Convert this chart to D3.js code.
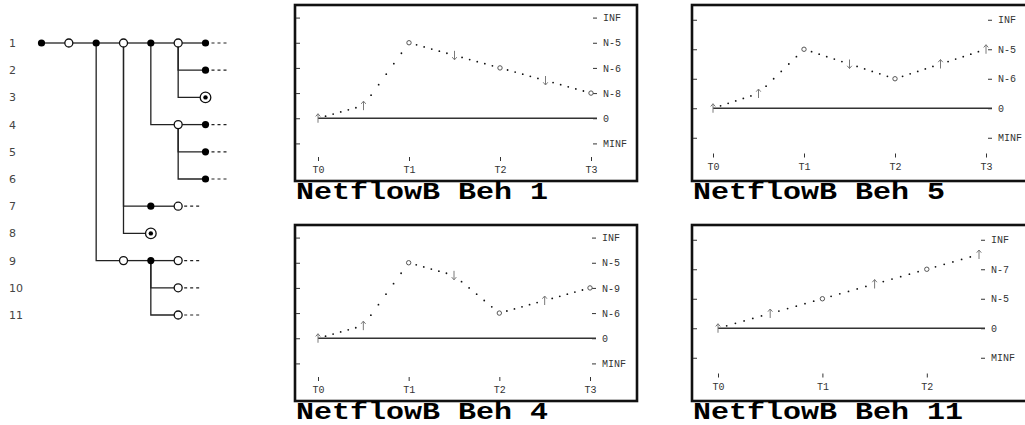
<!DOCTYPE html>
<html>
<head>
<meta charset="utf-8">
<script src="https://cdn.jsdelivr.net/npm/d3@7"></script>
<style>
  body { margin: 0; background: #fff; }
  svg { display: block; }
</style>
</head>
<body>
<svg id="chart" width="1025" height="425"></svg>
<script>
// ---- Behaviour tree ----
const treeRowLabels = ["1", "2", "3", "4", "5", "6", "7", "8", "9", "10", "11"];
// kind: "filled" | "open" | "final"; more: branch continues past the node
const treeIds     = ["a","b","c","d","e","f","g","h","i","j","k","l","m","n","o","p","q","r","s","t","u"];
const treeParents = [null,"a","b","c","d","e","f","f","f","e","j","j","j","d","n","d","c","q","r","r","r"];
const treeRows    = [0,0,0,0,0,0,0,1,2,3,3,4,5,6,6,7,8,8,8,9,10];
const treeCols    = [0,1,2,3,4,5,6,6,6,5,6,6,6,4,5,4,3,4,5,5,5];
const treeKinds   = ["filled","open","filled","open","filled","open","filled","filled","final","open","filled","filled","filled","filled","open","final","open","filled","open","open","open"];
const treeMore    = [0,0,0,0,0,0,1,1,0,0,1,1,1,0,1,0,0,0,1,1,1];

// ---- Behaviour plots ----
// values are indices into the level list (x.5 = between two landmarks),
// one entry per state: T0, (T0,T1), T1, (T1,T2), ...
const beh1Title  = "NetflowB Beh 1";
const beh1Levels = ["MINF", "0", "N-8", "N-6", "N-5", "INF"];
const beh1Times  = ["T0", "T1", "T2", "T3"];
const beh1Values = [1, 1.5, 4, 3.5, 3, 2.5, 2];
const beh1Marks  = ["inc", "inc", "pt", "dec", "pt", "dec", "pt"];

const beh5Title  = "NetflowB Beh 5";
const beh5Levels = ["MINF", "0", "N-6", "N-5", "INF"];
const beh5Times  = ["T0", "T1", "T2", "T3"];
const beh5Values = [1, 1.5, 3, 2.5, 2, 2.5, 3];
const beh5Marks  = ["inc", "inc", "pt", "dec", "pt", "inc", "inc"];

const beh4Title  = "NetflowB Beh 4";
const beh4Levels = ["MINF", "0", "N-6", "N-9", "N-5", "INF"];
const beh4Times  = ["T0", "T1", "T2", "T3"];
const beh4Values = [1, 1.5, 4, 3.5, 2, 2.5, 3];
const beh4Marks  = ["inc", "inc", "pt", "dec", "pt", "inc", "pt"];

const beh11Title  = "NetflowB Beh 11";
const beh11Levels = ["MINF", "0", "N-5", "N-7", "INF"];
const beh11Times  = ["T0", "T1", "T2"];
const beh11Values = [1, 1.5, 2, 2.5, 3, 3.5];
const beh11Marks  = ["inc", "inc", "pt", "inc", "pt", "inc"];

const svg = d3.select("#chart");

// ---------- tree ----------
const colX = d3.scaleLinear().domain([0, 6]).range([41.5, 205.5]);
const rowY = d3.scaleLinear().domain([0, 10]).range([43, 315]);

const treeG = svg.append("g");
treeG.selectAll("text.row")
  .data(treeRowLabels)
  .join("text")
  .attr("class", "row")
  .attr("x", 9)
  .attr("y", (d, i) => rowY(i))
  .attr("dy", "0.36em")
  .attr("font-family", "DejaVu Sans, sans-serif")
  .attr("font-size", 11)
  .attr("fill", "#444")
  .text(d => d);

const nodes = treeIds.map((id, i) => ({
  id, parentId: treeParents[i], row: treeRows[i], col: treeCols[i],
  kind: treeKinds[i], more: treeMore[i]
}));
const root = d3.stratify().id(d => d.id).parentId(d => d.parentId)(nodes);

// elbow links: down the parent's column, then across to the child
treeG.selectAll("path.link")
  .data(root.links())
  .join("path")
  .attr("class", "link")
  .attr("fill", "none")
  .attr("stroke", "#222")
  .attr("stroke-width", 1.3)
  .attr("d", l => {
    const sx = colX(l.source.data.col), sy = rowY(l.source.data.row);
    const tx = colX(l.target.data.col), ty = rowY(l.target.data.row);
    return `M${sx},${sy}V${ty}H${tx}`;
  });

treeG.selectAll("line.more")
  .data(root.descendants().filter(d => d.data.more))
  .join("line")
  .attr("class", "more")
  .attr("x1", d => colX(d.data.col) + 6)
  .attr("x2", d => colX(d.data.col) + 23)
  .attr("y1", d => rowY(d.data.row))
  .attr("y2", d => rowY(d.data.row))
  .attr("stroke", "#222")
  .attr("stroke-width", 1.2)
  .attr("stroke-dasharray", "3,3");

const nodeG = treeG.selectAll("g.node")
  .data(root.descendants())
  .join("g")
  .attr("class", "node")
  .attr("transform", d => `translate(${colX(d.data.col)},${rowY(d.data.row)})`);

nodeG.filter(d => d.data.kind === "filled")
  .append("circle").attr("r", 3.6).attr("fill", "#000");
nodeG.filter(d => d.data.kind === "open")
  .append("circle").attr("r", 4).attr("fill", "#fff").attr("stroke", "#111").attr("stroke-width", 1.3);
const fin = nodeG.filter(d => d.data.kind === "final");
fin.append("circle").attr("r", 5.3).attr("fill", "#fff").attr("stroke", "#111").attr("stroke-width", 1.3);
fin.append("circle").attr("r", 2.2).attr("fill", "#000");

// ---------- behaviour plots ----------
const panels = [
  { title: beh1Title,  levels: beh1Levels,  times: beh1Times,  values: beh1Values,  marks: beh1Marks,
    left: 295, top: 5,   xPad: 23, xSpan: 273, plotH: 151 },
  { title: beh5Title,  levels: beh5Levels,  times: beh5Times,  values: beh5Values,  marks: beh5Marks,
    left: 692, top: 5,   xPad: 21, xSpan: 273, plotH: 147.5 },
  { title: beh4Title,  levels: beh4Levels,  times: beh4Times,  values: beh4Values,  marks: beh4Marks,
    left: 295, top: 225, xPad: 23, xSpan: 272, plotH: 151 },
  { title: beh11Title, levels: beh11Levels, times: beh11Times, values: beh11Values, marks: beh11Marks,
    left: 692, top: 225, xPad: 26, xSpan: 261, plotH: 147.5 }
];

const boxW = 342, boxH = 176;
const mono = "'Courier New', Courier, 'Liberation Mono', monospace";

panels.forEach(p => {
  const g = svg.append("g");
  const nStates = p.values.length;
  const lastT = (nStates - 1) / 2;
  const x = d3.scaleLinear().domain([0, lastT])
    .range([p.left + p.xPad, p.left + p.xPad + p.xSpan]);
  const y = d3.scaleLinear().domain([-0.5, p.levels.length - 0.5])
    .range([p.top + p.plotH, p.top]);
  const levelIdx = d3.range(p.levels.length);
  const xEnd = x(lastT);

  // frame
  g.append("rect")
    .attr("x", p.left).attr("y", p.top)
    .attr("width", boxW).attr("height", boxH)
    .attr("fill", "none").attr("stroke", "#111").attr("stroke-width", 2.6);

  // inner ticks on the frame
  const leftAx = g.append("g")
    .attr("transform", `translate(${p.left + 1},0)`)
    .call(d3.axisRight(y).tickValues(levelIdx).tickSize(4).tickFormat(""));
  leftAx.select(".domain").remove();
  leftAx.selectAll("line").attr("stroke", "#333");

  // landmark axis on the right
  const rightAx = g.append("g")
    .attr("transform", `translate(${xEnd + 2},0)`)
    .call(d3.axisRight(y).tickValues(levelIdx).tickSize(4).tickPadding(6)
      .tickFormat(i => p.levels[i]));
  rightAx.select(".domain").remove();
  rightAx.selectAll("line").attr("stroke", "#333");
  rightAx.selectAll("text").attr("font-family", mono).attr("font-size", 10).attr("fill", "#333");

  // time axis
  const timeAx = g.append("g")
    .attr("transform", `translate(0,${p.top + p.plotH + 1})`)
    .call(d3.axisBottom(x).tickValues(d3.range(p.times.length)).tickSize(4).tickPadding(5)
      .tickFormat(i => p.times[i]));
  timeAx.select(".domain").remove();
  timeAx.selectAll("line").attr("stroke", "#333");
  timeAx.selectAll("text").attr("font-family", mono).attr("font-size", 10).attr("fill", "#333");

  // zero line
  const zi = p.levels.indexOf("0");
  g.append("line")
    .attr("x1", x(0)).attr("x2", xEnd + 6)
    .attr("y1", y(zi)).attr("y2", y(zi))
    .attr("stroke", "#333").attr("stroke-width", 1.4);

  // dotted trajectory between consecutive states
  const states = p.values.map((v, i) => ({ t: i / 2, v, m: p.marks[i] }));
  const dots = [];
  d3.pairs(states).forEach(([a, b]) => {
    for (let k = 1; k <= 5; k++) {
      const f = k / 6;
      dots.push({ t: a.t + (b.t - a.t) * f, v: a.v + (b.v - a.v) * f });
    }
  });
  g.selectAll("circle.dot")
    .data(dots)
    .join("circle")
    .attr("class", "dot")
    .attr("cx", d => x(d.t)).attr("cy", d => y(d.v))
    .attr("r", 0.9).attr("fill", "#111");

  // landmark points
  g.selectAll("circle.pt")
    .data(states.filter(s => s.m === "pt"))
    .join("circle")
    .attr("class", "pt")
    .attr("cx", d => x(d.t)).attr("cy", d => y(d.v))
    .attr("r", 2.2).attr("fill", "#fff").attr("stroke", "#555").attr("stroke-width", 1);

  // direction arrows (up = increasing, down = decreasing)
  g.selectAll("path.dir")
    .data(states.filter(s => s.m !== "pt"))
    .join("path")
    .attr("class", "dir")
    .attr("transform", d => `translate(${x(d.t)},${y(d.v)}) scale(1,${d.m === "inc" ? 1 : -1})`)
    .attr("d", "M0,4.5V-4.5M-2.3,-1.8L0,-4.5L2.3,-1.8")
    .attr("fill", "none")
    .attr("stroke", "#7a7a7a")
    .attr("stroke-width", 1);

  // caption
  g.append("text")
    .attr("transform", `translate(${p.left + 1},${p.top + 194}) scale(1,0.8)`)
    .attr("font-family", mono)
    .attr("font-weight", "bold")
    .attr("font-size", 30)
    .attr("fill", "#000")
    .text(p.title);
});
</script>
</body>
</html>
